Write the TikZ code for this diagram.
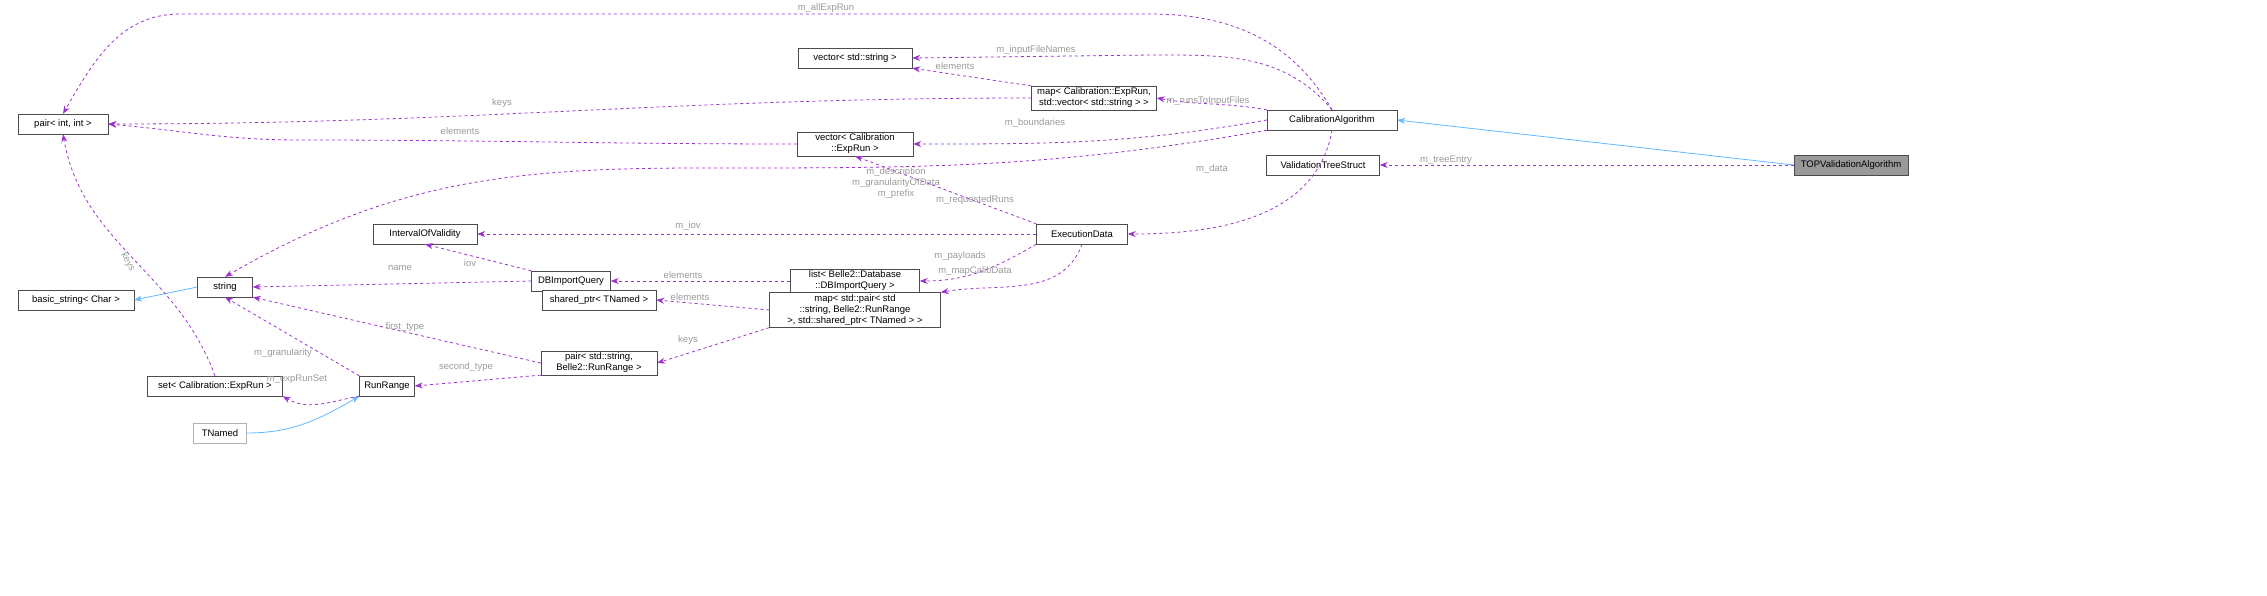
\documentclass[tikz,border=0pt]{standalone}
\usepackage{fontspec}
\setmainfont{Liberation Sans}
\usetikzlibrary{arrows.meta}
\definecolor{pu}{HTML}{9A32CD}
\definecolor{bl}{HTML}{63B8FF}
\definecolor{lg}{HTML}{9A9A9A}
\begin{document}
\begin{tikzpicture}[x=1pt,y=-1pt,
 nd/.style={draw=black!70,fill=white,inner sep=2pt,minimum height=20pt,font=\fontsize{9.5}{11}\selectfont,align=center},
 rel/.style={draw=pu,dashed,line width=0.8pt,-{Stealth[length=8pt,width=6pt]}},
 inh/.style={draw=bl,line width=0.8pt,-{Stealth[length=8pt,width=6pt,fill=bl]}},
 lb/.style={text=lg,font=\fontsize{9.5}{11}\selectfont,align=center,inner sep=0pt}]
\useasboundingbox (0,0) rectangle (2267,595);
\node[nd,fill=black!40,minimum width=114pt] (top) at (1851,165) {TOPValidationAlgorithm};
\node[nd,minimum width=130pt] (cal) at (1332,120) {CalibrationAlgorithm};
\node[nd,minimum width=113pt] (vts) at (1323,165) {ValidationTreeStruct};
\node[nd,minimum width=114pt] (vs) at (855,58) {vector< std::string >};
\node[nd,minimum width=125pt] (map) at (1094,98) {map< Calibration::ExpRun,\\ std::vector< std::string > >};
\node[nd,minimum width=90pt] (pii) at (63,124) {pair< int, int >};
\node[nd,minimum width=116pt] (ver) at (855,144) {vector< Calibration\\ ::ExpRun >};
\node[nd,minimum width=91pt] (ed) at (1082,234) {ExecutionData};
\node[nd,minimum width=104pt] (iov) at (425,234) {IntervalOfValidity};
\node[nd,minimum width=79pt] (db) at (571,281) {DBImportQuery};
\node[nd,minimum width=129pt] (lst) at (855,281) {list< Belle2::Database\\ ::DBImportQuery >};
\node[nd,minimum width=116pt] (bs) at (76,300) {basic\_string< Char >};
\node[nd,minimum width=55pt] (str) at (225,287) {string};
\node[nd,minimum width=114pt] (sp) at (599,300) {shared\_ptr< TNamed >};
\node[nd,minimum width=171pt] (mp) at (855,310) {map< std::pair< std\\ ::string, Belle2::RunRange\\ >, std::shared\_ptr< TNamed > >};
\node[nd,minimum width=116pt] (prr) at (599,363) {pair< std::string,\\ Belle2::RunRange >};
\node[nd,minimum width=135pt] (set) at (215,386) {set< Calibration::ExpRun >};
\node[nd,minimum width=55pt] (rr) at (387,386) {RunRange};
\node[nd,draw=black!30,minimum width=53pt] (tn) at (220,433) {TNamed};

\draw[inh] (top.west) -- (cal.east);
\draw[inh] (str.west) -- (bs.east);
\draw[inh] (tn.east) to[out=0,in=-150] (rr.south west);

\draw[rel] (top.west) -- (vts.east);
\draw[rel] (cal.north) to[out=120,in=0] (1150,14) -- (180,14) to[out=180,in=60] (pii.north);
\draw[rel] (cal.north) to[out=130,in=0] (1150,55) -- (vs.east);
\draw[rel] (cal.north west) to[out=170,in=-10] (map.east);
\draw[rel] (cal.west) to[out=-170,in=0] (ver.east);
\draw[rel] (cal.south west) to[out=-170,in=0] (700,168) to[out=180,in=30] (str.north);
\draw[rel] (cal.south) to[out=-100,in=0] (ed.east);
\draw[rel] (map.north west) -- (vs.south east);
\draw[rel] (map.west) to[out=180,in=0] (pii.east);
\draw[rel] (ver.west) to[out=180,in=0] (300,140) to[out=180,in=-5] (pii.east);
\draw[rel] (ed.north west) -- (ver.south);
\draw[rel] (ed.west) -- (iov.east);
\draw[rel] (ed.south west) to[out=-150,in=0] (lst.east);
\draw[rel] (ed.south) to[out=-110,in=10] (mp.north east);
\draw[rel] (lst.west) -- (db.east);
\draw[rel] (db.north west) -- (iov.south);
\draw[rel] (db.west) -- (str.east);
\draw[rel] (mp.west) -- (sp.east);
\draw[rel] (mp.south west) -- (prr.east);
\draw[rel] (prr.west) -- (str.south east);
\draw[rel] (prr.south west) -- (rr.east);
\draw[rel] (rr.north west) -- (str.south);
\draw[rel] (rr.south west) to[out=-170,in=-30] (set.south east);
\draw[rel] (set.north) to[out=110,in=-80] (pii.south);

\node[lb] at (826,8) {m\_allExpRun};
\node[lb] at (1036,50) {m\_inputFileNames};
\node[lb] at (955,66) {elements};
\node[lb] at (502,103) {keys};
\node[lb] at (1208,101) {m\_runsToInputFiles};
\node[lb] at (1035,123) {m\_boundaries};
\node[lb] at (460,131) {elements};
\node[lb] at (896,183) {m\_description\\ m\_granularityOfData\\ m\_prefix};
\node[lb] at (975,200) {m\_requestedRuns};
\node[lb] at (1212,169) {m\_data};
\node[lb] at (688,226) {m\_iov};
\node[lb] at (470,263) {iov};
\node[lb] at (683,275) {elements};
\node[lb] at (400,268) {name};
\node[lb] at (960,256) {m\_payloads};
\node[lb] at (975,271) {m\_mapCalibData};
\node[lb] at (690,297) {elements};
\node[lb] at (688,340) {keys};
\node[lb] at (405,327) {first\_type};
\node[lb] at (466,367) {second\_type};
\node[lb] at (283,353) {m\_granularity};
\node[lb] at (297,379) {m\_expRunSet};
\node[lb,rotate=-62] at (128,262) {keys};
\node[lb] at (1446,160) {m\_treeEntry};
\end{tikzpicture}
\end{document}
